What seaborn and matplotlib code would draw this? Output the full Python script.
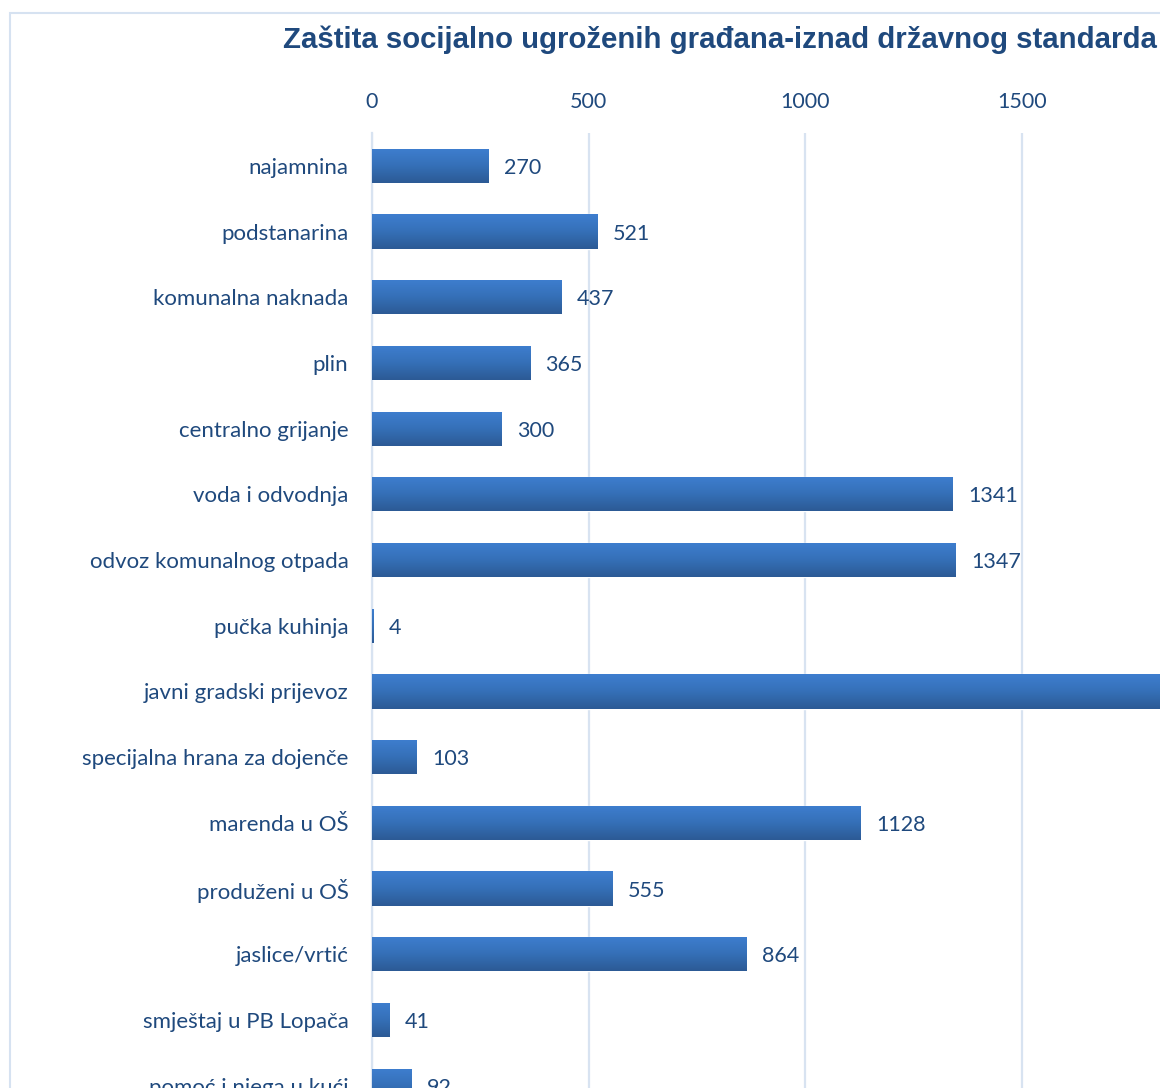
import numpy as np
import pandas as pd
import matplotlib
matplotlib.use("Agg")
import matplotlib.pyplot as plt
from matplotlib.colors import LinearSegmentedColormap
from matplotlib.patches import Rectangle
import seaborn as sns

# Data (the "javni gradski prijevoz" bar runs past the crop, value estimated)
categories = [
    "najamnina", "podstanarina", "komunalna naknada", "plin",
    "centralno grijanje", "voda i odvodnja", "odvoz komunalnog otpada",
    "pučka kuhinja", "javni gradski prijevoz", "specijalna hrana za dojenče",
    "marenda u OŠ", "produženi u OŠ", "jaslice/vrtić", "smještaj u PB Lopača",
    "pomoć i njega u kući",
]
values = [270, 521, 437, 365, 300, 1341, 1347, 4, 2100, 103, 1128, 555, 864, 41, 92]
x_ticks = [0, 500, 1000, 1500, 2000, 2500]

TEXT = "#1f497d"
GRID = "#d8e3f1"
W, H = 1160, 1088
ROW = 65.7

sns.set_theme(style="white")
plt.rcParams['font.family'] = ['Lato', 'DejaVu Sans']

df = pd.DataFrame({"kategorija": categories, "broj": values})

fig = plt.figure(figsize=(W / 100, H / 100), dpi=100)
top = 133
ax_h = len(categories) * ROW
ax = fig.add_axes([372 / W, 1 - (top + ax_h) / H, 1083 / W, ax_h / H])

sns.barplot(data=df, x="broj", y="kategorija", orient="h", color="#3570b8",
            width=0.52, ax=ax, zorder=2)

# vertical gradient on each bar, light on top, darker at bottom
cmap = LinearSegmentedColormap.from_list("bar", ["#3e7ecf", "#3570b8", "#2c5a95"])
grad = np.linspace(0, 1, 100).reshape(-1, 1)
for p in ax.patches:
    x0, y0, w, h = p.get_x(), p.get_y(), p.get_width(), p.get_height()
    im = ax.imshow(grad, cmap=cmap, aspect="auto", origin="upper",
                   extent=[x0, x0 + w, y0 + h, y0], zorder=3)
    im.set_clip_path(p)

labels = ax.bar_label(ax.containers[0], padding=11, fontsize=15.5, color=TEXT)
for t in labels:
    t.set_va("center_baseline")

ax.set_xlim(0, 2500)
ax.set_ylim(len(categories) - 0.5, -0.5)
ax.xaxis.tick_top()
ax.set_xticks(x_ticks)
ax.tick_params(axis="x", length=0, pad=15, labelsize=15.5, labelcolor=TEXT)
ax.tick_params(axis="y", length=0, pad=17, labelsize=16, labelcolor=TEXT)
ax.set_xlabel("")
ax.set_ylabel("")
ax.grid(axis="x", color=GRID, linewidth=1.6, zorder=0)
ax.set_axisbelow(True)
for side in ["top", "right", "bottom"]:
    ax.spines[side].set_visible(False)
ax.spines["left"].set_color(GRID)
ax.spines["left"].set_linewidth(1.6)

fig.text(720 / W, 1 - 40 / H, "Zaštita socijalno ugroženih građana-iznad državnog standarda",
         ha="center", va="center", fontsize=21.2, fontweight="bold",
         family=["Liberation Sans", "DejaVu Sans"], color=TEXT)

# outer chart frame (only left and top edges fall inside the crop)
fig.add_artist(Rectangle((10 / W, -0.2), 1.5, 1.2 - 13 / H, transform=fig.transFigure,
                         fill=False, edgecolor="#d6e2f1", linewidth=1.5))

fig.savefig("out.png", dpi=100)
